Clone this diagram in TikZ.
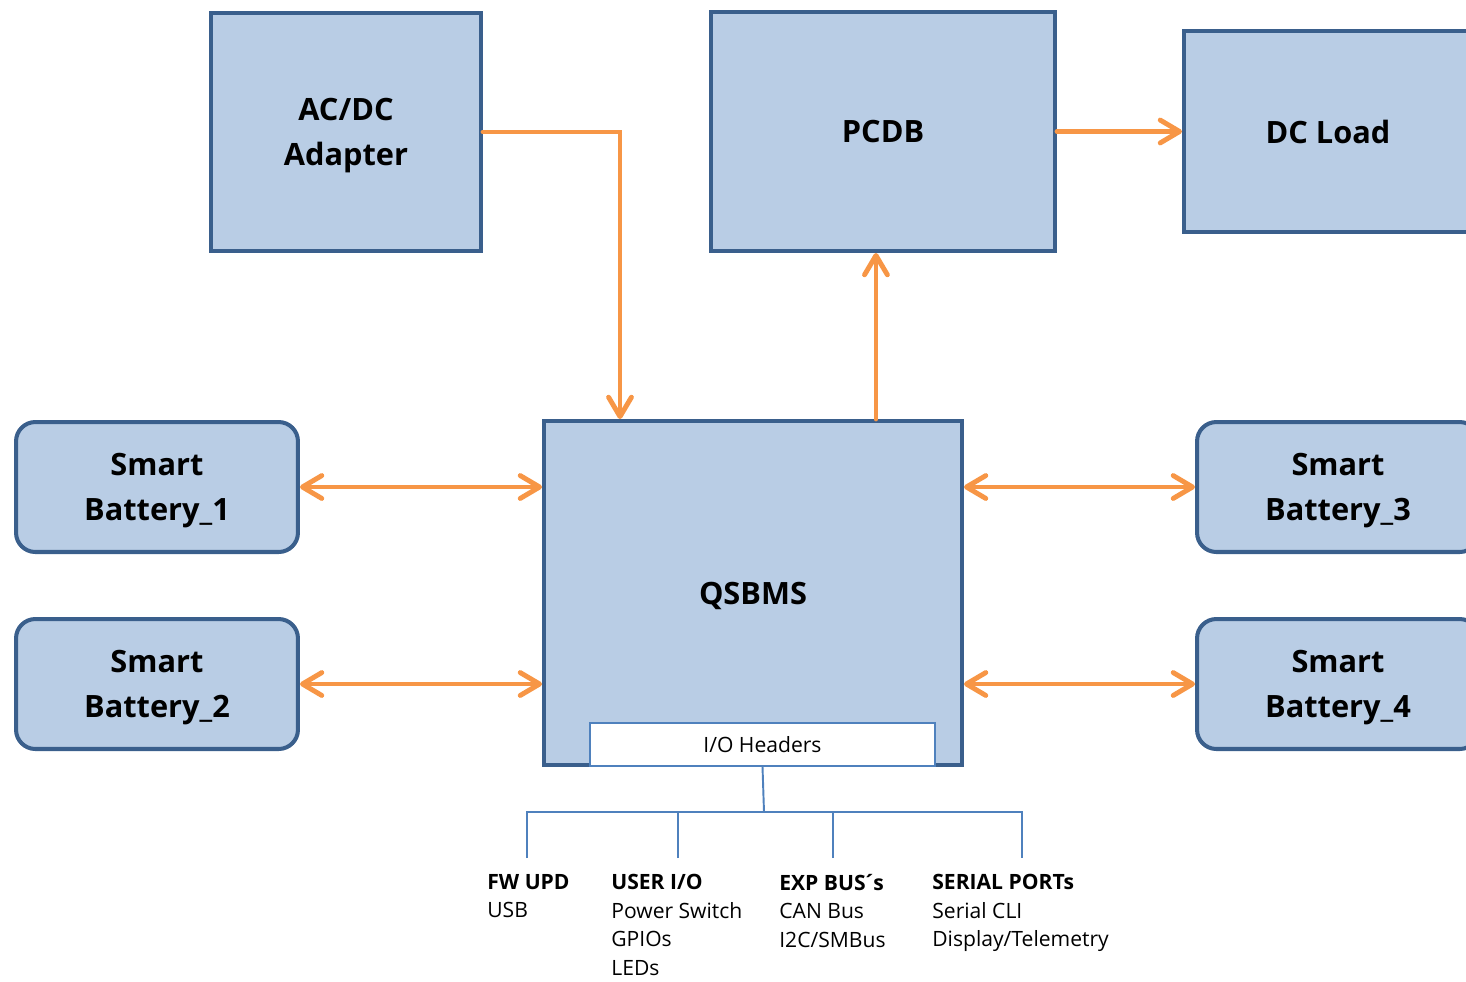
\documentclass[tikz,border=0pt]{standalone}
\usepackage{fontspec}
\setmainfont{Open Sans}
\usetikzlibrary{arrows.meta}
\definecolor{boxfill}{HTML}{B9CDE5}
\definecolor{boxline}{HTML}{3A5F8C}
\definecolor{flowor}{HTML}{F79646}
\definecolor{busblue}{HTML}{4F81BD}
\newcommand{\nodepth}[1]{\raisebox{0pt}[\height][0pt]{#1}}
\tikzset{
  blk/.style={draw=boxline, fill=boxfill, line width=2.3pt, align=center,
    inner sep=0pt, font=\bfseries\fontsize{17.5}{25.5}\selectfont},
  bat/.style={blk, rounded corners=11pt, minimum width=5.64cm, minimum height=2.6cm},
  flow/.style={draw=flowor, line width=2.8pt, line cap=round, -{Straight Barb[length=11pt,width=13pt,round]}},
  twoway/.style={flow, {Straight Barb[length=11pt,width=13pt,round]}-{Straight Barb[length=11pt,width=13pt,round]}},
  bus/.style={draw=busblue, line width=1.1pt},
  port/.style={anchor=north west, inner sep=0pt, align=left, font=\fontsize{12}{16.2}\selectfont}
}
\begin{document}
\begin{tikzpicture}[x=0.02cm, y=-0.02cm]
  \useasboundingbox (0,0) rectangle (1466,981);
  % power path
  \node[blk, minimum width=5.4cm, minimum height=4.76cm] (adapter) at (346,132) {AC/DC\\\nodepth{Adapter}};
  \node[blk, minimum width=6.88cm, minimum height=4.78cm] (pcdb) at (883,131.5) {PCDB};
  \node[blk, minimum width=5.76cm, minimum height=4.02cm] (dcload) at (1328,131.5) {DC Load};
  % controller
  \node[blk, minimum width=8.36cm, minimum height=6.88cm] (qsbms) at (753,593) {\nodepth{QSBMS}};
  \node[draw=busblue, fill=white, line width=0.8pt, minimum width=6.9cm, minimum height=0.86cm,
    inner sep=0pt, font=\fontsize{12}{14}\selectfont] (io) at (762.5,744.5) {I/O Headers};
  % batteries
  \node[bat] (bat1) at (157,487) {Smart\\\nodepth{Battery\_1}};
  \node[bat] (bat2) at (157,684) {Smart\\\nodepth{Battery\_2}};
  \node[bat] (bat3) at (1338,487) {Smart\\\nodepth{Battery\_3}};
  \node[bat] (bat4) at (1338,684) {Smart\\\nodepth{Battery\_4}};

  \draw[flow] (adapter.east) -| ([xshift=1.56cm]qsbms.north west);
  \draw[flow] ([xshift=6.68cm]qsbms.north west) -- ([xshift=6.68cm]qsbms.north west |- pcdb.south);
  \draw[flow] (pcdb.east) -- (dcload.west);
  \draw[twoway] (bat1.east) -- (bat1.east -| qsbms.west);
  \draw[twoway] (bat2.east) -- (bat2.east -| qsbms.west);
  \draw[twoway] (qsbms.east |- bat3.west) -- (bat3.west);
  \draw[twoway] (qsbms.east |- bat4.west) -- (bat4.west);

  % I/O header groups
  \node[port] (fwupd) at (487,874) {\textbf{FW UPD}\\USB};
  \node[port] (userio) at (611,874) {\textbf{USER I/O}\\Power Switch\\GPIOs\\LEDs};
  \node[port] (expbus) at (779,874) {\textbf{EXP BUS\kern-0.12em´\kern-0.12em s}\\CAN Bus\\I2C/SMBus};
  \node[port] (serial) at (932,874) {\textbf{SERIAL PORTs}\\Serial CLI\\Display/Telemetry};
  \coordinate (split) at (764,812);
  \coordinate (fwtop) at (527,858);
  \coordinate (usertop) at (678,858);
  \coordinate (exptop) at (833,858);
  \coordinate (serialtop) at (1022,858);
  \draw[bus] (io.south) -- (split);
  \draw[bus] (fwtop) -- (fwtop |- split) -- (serialtop |- split) -- (serialtop);
  \draw[bus] (usertop) -- (usertop |- split);
  \draw[bus] (exptop) -- (exptop |- split);
\end{tikzpicture}
\end{document}
